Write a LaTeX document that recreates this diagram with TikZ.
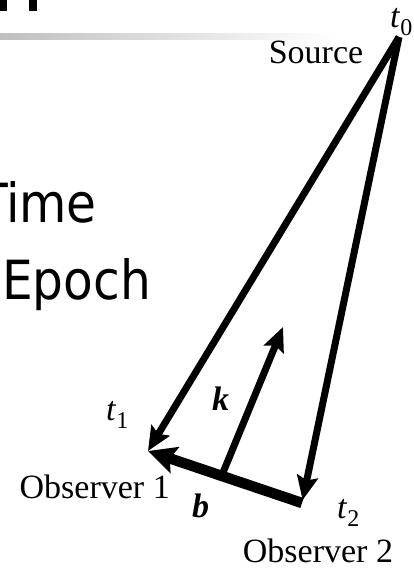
\documentclass[tikz,border=0pt]{standalone}
\usepackage{fontspec}
\setmainfont{Liberation Serif}
\newfontfamily\slidefont{DejaVu Sans Condensed}
\usetikzlibrary{arrows.meta}

\newcommand\tlbl[1]{\textit{t}\raisebox{-8pt}{\fontsize{24}{24}\selectfont #1}}

\begin{document}
\begin{tikzpicture}[x=1pt, y=-1pt,
  ray/.style={line width=7pt, -{Stealth[length=24pt, width=21pt, inset=4pt]}},
  base/.style={line width=10.5pt, -{Stealth[length=28pt, width=27pt, inset=5pt]}},
  lbl/.style={inner sep=0pt, font=\fontsize{34}{34}\selectfont},
  big/.style={inner sep=0pt, font=\slidefont\fontsize{54}{54}\selectfont}]

\useasboundingbox (0,0) rectangle (414,571);

% Kopf der Folie
\fill (0,0) rectangle (7,11);
\fill (29,0) rectangle (37,11);
\shade[left color=gray!50, right color=white] (0,33) rectangle (335,39);

% Text links
\node[big, anchor=base east] (time) at (97,222) {Time};
\node[big, anchor=base west] (epoch) at (2,299) {Epoch};

% Punkte
\coordinate (src) at (399,37);
\coordinate (obs1) at (148,451);
\coordinate (obs2) at (302,503);
\coordinate (kbase) at (222,475);
\coordinate (ktip) at (283,327);

% Strahlen und Basislinie
\draw[ray] (src) -- (obs1);
\draw[ray, shorten >=3pt] (src) -- (obs2);
\draw[base] (obs2) -- (obs1);
\draw[ray] (kbase) -- (ktip);

% Beschriftung
\node[lbl, anchor=base] (source) at (316,63) {Source};
\node[lbl, anchor=base west] (t0) at (390,27) {\tlbl{0}};
\node[lbl, anchor=base west] (t1) at (106,420) {\tlbl{1}};
\node[lbl, anchor=base west] (t2) at (337,518) {\tlbl{2}};
\node[lbl, anchor=base west] (k) at (212,410) {\textbf{\textit{k}}};
\node[lbl, anchor=base west] (b) at (192,517) {\textbf{\textit{b}}};
\node[lbl, anchor=base east] (o1) at (170,498) {Observer 1};
\node[lbl, anchor=base] (o2) at (318,562) {Observer 2};

\end{tikzpicture}
\end{document}
